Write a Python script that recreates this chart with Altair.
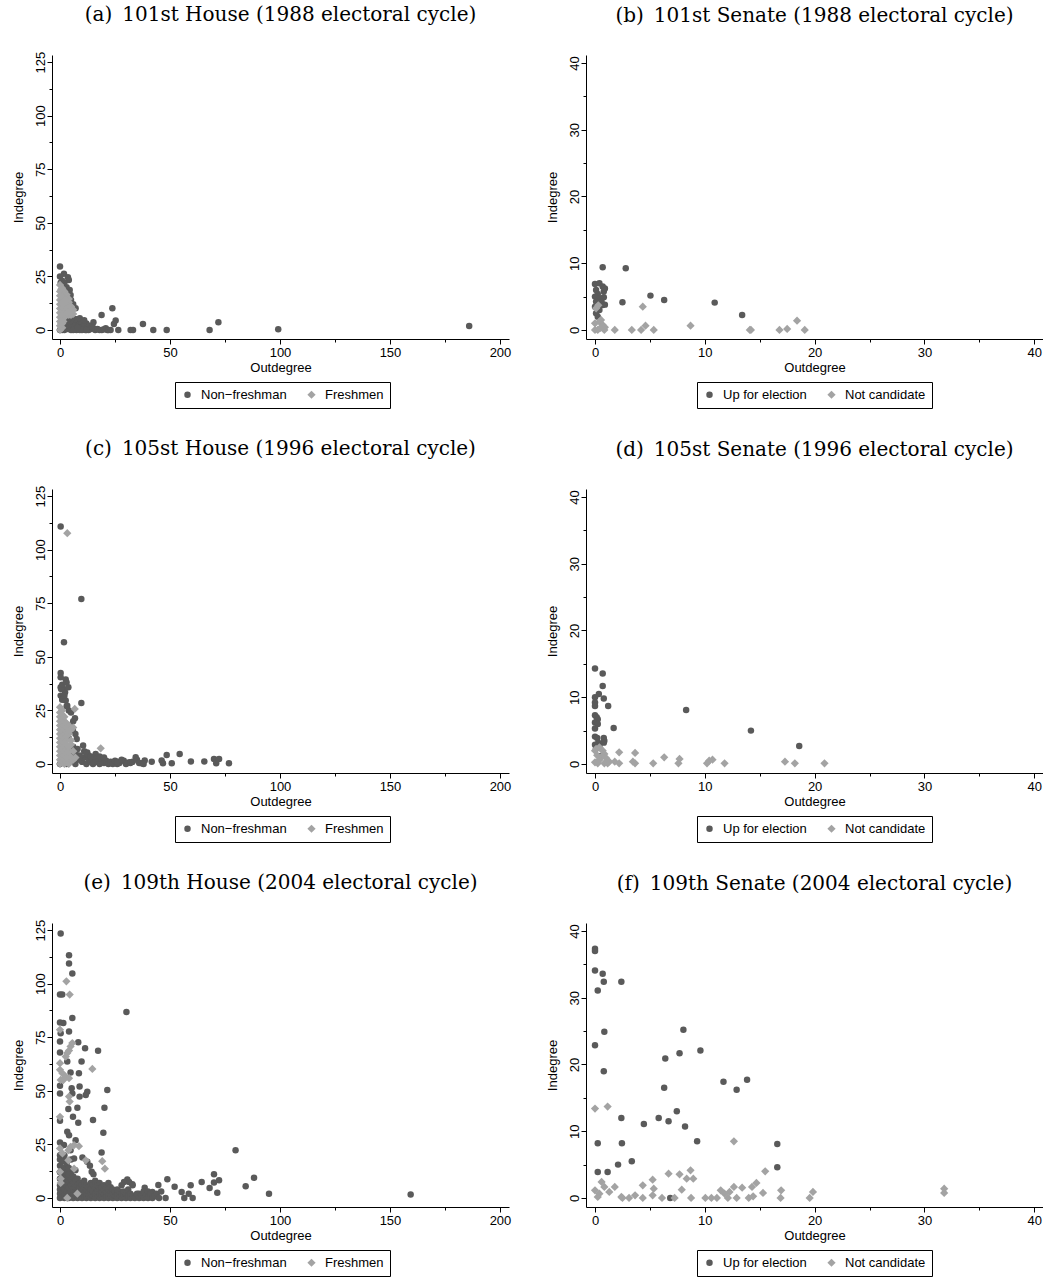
import altair as alt
import pandas as pd

DARK = "#5a5a5a"
LIGHT = "#a3a3a3"
HOUSE_GROUPS = ["Non\u2212freshman", "Freshmen"]
SENATE_GROUPS = ["Up for election", "Not candidate"]

TITLES = [
    "(a)\u2002101st House (1988 electoral cycle)",
    "(b)\u2002101st Senate (1988 electoral cycle)",
    "(c)\u2002105st House (1996 electoral cycle)",
    "(d)\u2002105st Senate (1996 electoral cycle)",
    "(e)\u2002109th House (2004 electoral cycle)",
    "(f)\u2002109th Senate (2004 electoral cycle)",
]

# ---------------- (a) 101st House ----------------
house101_nonfresh = [
    (0, 29.6), (1.8, 26.2), (3.6, 24.6), (4, 23.3), (0.3, 22), (4.4, 18.7), (4.8, 16.3), (7.1, 10.1),
    (2, 22), (3, 20), (5, 14), (6, 12), (0, 25), (1, 23),
    (18.9, 7), (23.8, 10.1), (25.3, 4.4), (24.5, 2.8), (26.5, 0), (15.2, 3.6), (20.8, 0.8), (21.5, 0),
    (32.1, 0), (33.2, 0), (37.7, 2.8), (42.4, 0), (48.5, 0), (68, 0), (72, 3.6), (99.2, 0.3), (186, 1.9),
    (2, 0), (2.5, 1), (3, 2), (3.5, 0.5), (4, 3), (4.5, 1.5), (5, 0), (5.5, 2.5), (6, 4), (6.5, 1),
    (7, 3), (7.5, 0), (8, 5), (8.5, 2), (9, 4), (9.5, 0.5), (10, 3.5), (10.5, 1.5), (11, 2.5), (11.5, 0),
    (12, 3), (12.5, 1), (13, 0), (13.5, 2), (14, 0.5), (15, 1), (16, 0), (17, 0.5), (18, 0), (19, 0),
    (20, 0.3), (22, 0), (23, 0), (6, 0), (9, 0), (10, 0), (12, 0), (8, 1), (7, 5), (9, 5.5),
    (5, 4.5), (4, 5.5), (11, 4.5), (3, 4), (1, 0), (0, 0), (0.5, 1.5),
]
house101_fresh = [
    (0, 0), (0, 2), (0, 4), (0, 6), (0, 8), (0, 10), (0, 12), (0, 14), (0, 16), (0, 18), (0, 21),
    (1, 1), (1, 3), (1, 5), (1, 7), (1, 9), (1, 11), (1, 13), (1, 15), (1, 17), (1, 19.5),
    (2, 6), (2, 8), (2, 10), (2, 12), (2, 14), (2, 16), (2, 18),
    (3, 7), (3, 9), (3, 11), (3, 13), (3, 15), (3, 16.5),
    (4, 7), (4, 9), (4, 11), (4, 13), (4, 14.5),
    (5, 7), (5, 9), (5, 11), (6, 7.5), (6, 9.5),
    (0.5, 3), (1.5, 4), (2.5, 7), (3.5, 8), (4.5, 8), (1.5, 12), (2.5, 14), (0.5, 16), (0.5, 19),
]

# ---------------- (b) 101st Senate ----------------
senate101_up = [
    (0.7, 9.4), (2.8, 9.25), (0, 6.9), (0.4, 7.0), (0.7, 6.5), (0.8, 5.75), (0.1, 6.0), (0.25, 5.4),
    (0, 5.0), (0.4, 4.75), (0.8, 4.9), (0.1, 4.25), (0.7, 3.75), (0.4, 3.0), (0.1, 2.5), (0.25, 2.0),
    (0.9, 6.2), (0.6, 4.2), (0, 3.5), (0.9, 3.8),
    (2.5, 4.15), (5.05, 5.15), (6.3, 4.5), (10.9, 4.1), (13.4, 2.25),
]
senate101_not = [
    (0.1, 3.25), (0.3, 3.7), (4.35, 3.5), (0, 1.0), (0.4, 1.25), (0.7, 0.75), (0.25, 0), (0, 0), (0.85, 0),
    (0.55, 1.5), (0.9, 0.4), (0.5, 0.3),
    (1.8, 0), (3.35, 0), (4.2, 0), (4.6, 0.65), (5.35, 0), (8.7, 0.65), (14.1, 0), (14.2, 0),
    (16.8, 0), (17.5, 0.15), (18.4, 1.4), (19.1, 0),
]

# ---------------- (c) 105th House ----------------
house105_nonfresh = [
    (0.3, 110.8), (9.7, 77), (1.8, 56.8), (0.3, 42.5), (0.3, 40.5), (2.6, 39.4), (0.3, 35.8), (1.5, 35),
    (3.8, 35.8), (2.3, 33.5), (0.3, 31.9), (1, 30.4), (2.6, 29.6), (3.3, 27.2), (9.7, 28.5), (6.8, 21.3),
    (5.9, 15.6), (7.6, 11.7), (10.5, 8.6), (16.2, 4.7), (12.4, 5.4), (34.4, 3.1), (38.5, 1.6), (41.7, 1.1),
    (46.2, 1.6), (46.8, 0.3), (48.5, 4.2), (50.8, 0.3), (54.4, 4.7), (59.5, 1.2), (65.6, 1.2), (70, 2.3),
    (72.3, 2.3), (71, 0.3), (76.8, 0.3), (31.5, 0.8), (29, 1.5), (37, 0.3),
    (0, 0), (1, 1), (2, 0.5), (3, 0), (4, 2), (5, 1), (6, 3), (7, 0), (8, 2), (9, 4), (10, 1), (11, 3),
    (12, 0), (13, 2), (14, 1), (15, 0), (16, 2.5), (17, 1), (18, 0), (19, 2), (20, 0.5), (21, 1.5),
    (22, 0), (23, 1), (24, 0), (25, 1.5), (26, 0), (27, 0.5), (28, 1.5), (30, 0), (32, 0.5), (33, 1),
    (35, 2), (36, 0.5), (38, 0), (5, 5), (7, 5.5), (11, 6), (13, 4), (8, 7), (6, 8), (4, 12), (5, 18),
    (6, 20), (4, 25), (3, 27), (1, 30), (2, 32), (0.5, 35), (1, 37), (5, 24), (7, 14), (3, 38), (9, 3),
    (18, 3.5), (20, 3), (12, 5), (14, 3.5), (26, 1), (28, 2),
]
house105_fresh = [
    (0, 0), (0, 2), (0, 4), (0, 6), (0, 8), (0, 10), (0, 12), (0, 14), (0, 16), (0, 18), (0, 20), (0, 22),
    (0, 24), (0, 26.5),
    (1, 1), (1, 3), (1, 5), (1, 7), (1, 9), (1, 11), (1, 13), (1, 15), (1, 17), (1, 19), (1, 21), (1, 23), (1, 25),
    (2, 0), (2, 2), (2, 4), (2, 6), (2, 8), (2, 10), (2, 12), (2, 14), (2, 16), (2, 18), (2, 20), (2, 22),
    (3, 1), (3, 3), (3, 5), (3, 7), (3, 9), (3, 11), (3, 13), (3, 15), (3, 17), (3, 19),
    (4, 0), (4, 4), (4, 6), (4, 8), (4, 14), (4, 16), (4, 18),
    (5, 1.5), (5, 3), (5, 9), (5, 11), (5, 16), (6, 2), (6, 6), (6, 17), (7, 3),
    (6.7, 25.7), (3.3, 107.7), (18.5, 7.3),
]

# ---------------- (d) 105th Senate ----------------
senate105_up = [
    (0, 14.3), (0.7, 13.55), (0.7, 11.7), (0.35, 10.5), (0, 10), (0.8, 9.8), (0, 9.2), (0, 8.7), (1.2, 8.7),
    (8.3, 8.1), (0, 7.3), (0.15, 7.0), (0.25, 6.7), (0, 6.2), (0.25, 6.0), (0, 5.3), (1.7, 5.4), (14.2, 5.0),
    (0, 4.1), (0.2, 3.9), (0.8, 3.9), (0.85, 3.5), (0.8, 3.2), (0.3, 3.2), (0.4, 2.7), (18.6, 2.7),
    (0, 2.9), (0.1, 2.4), (0.5, 1.2),
]
senate105_not = [
    (0, 2.0), (0.1, 2.25), (0.4, 2.5), (0.7, 2.0), (0.85, 1.5), (0.55, 1.0), (0, 0.25), (0.25, 0.1),
    (0.85, 0.1), (1.15, 0.1), (1.3, 0.35), (1.8, 0.35), (2.2, 1.75), (2.2, 0.1), (3.65, 1.65), (3.65, 0.1),
    (3.45, 0.35), (5.3, 0.1), (6.3, 1.0), (7.7, 0.75), (7.6, 0.1), (10.2, 0.1), (10.4, 0.5), (10.7, 0.65),
    (11.8, 0.1), (17.3, 0.35), (18.2, 0.1), (20.9, 0.1), (0.4, 0.6), (1.0, 0.9), (0.2, 1.3),
]

# ---------------- (e) 109th House ----------------
house109_nonfresh = [
    (0.3, 123.4), (4.1, 113.3), (4.1, 109.4), (5.6, 104.7), (0, 94.9), (1, 94.9), (30.2, 86.8), (5.6, 84),
    (0, 81.9), (1.5, 81.6), (4.1, 77.7), (0.3, 76.9), (0, 73), (8.3, 72.7), (11.4, 69.9), (17.3, 68.7),
    (0, 67.9), (3.3, 63.7), (9.8, 63.7), (4.8, 58.5), (8.6, 58.2), (0, 52.4), (8.9, 52), (5.3, 51.2),
    (5.6, 48.8), (12.4, 49.6), (11.7, 48), (8.9, 47.3), (21.5, 50.4), (0, 48.8), (7.9, 42.1), (3.8, 41.5),
    (20.2, 42.1), (5.9, 37.9), (8.3, 35.1), (15, 36.4), (0, 36), (19.7, 30.4), (3.3, 30.9), (4.1, 29.3),
    (7.1, 27), (0, 25.9), (1.8, 24.7), (4.8, 22.3), (18.9, 21.2), (79.8, 22.3), (0, 20), (1.8, 17.6),
    (6.4, 18.4), (10.2, 18.9), (12.4, 16.9), (13.6, 15), (14.4, 12.2), (15.2, 11.1), (70, 11.1), (88.2, 9.4),
    (48.8, 8.7), (52.1, 5.2), (44.7, 6.1), (64.4, 7.5), (72.3, 8.3), (70, 7.2), (68, 4.7), (71.5, 2.5),
    (59.4, 5.9), (55.3, 2.8), (56.5, 0), (60.3, 0), (58.5, 2), (84.4, 5.5), (95, 2), (159.4, 1.6),
    (30.6, 8.6), (31.4, 7.5), (29.1, 7.5), (32.9, 6.4), (38.5, 4.8), (42, 2.8), (48, 0), (43.5, 0.8),
    (35.9, 2), (38.9, 0.8), (2, 14), (3, 10), (5, 12), (7, 9), (1, 6),
    (0, 0), (0, 2), (0, 4), (0, 6), (0, 9), (0, 12), (0, 15), (0, 18),
    (1, 1), (1, 3), (1, 5), (1, 8), (1, 11), (1, 14), (1, 17),
    (2, 0), (2, 2), (2, 4), (2, 7), (2, 10), (2, 13), (2, 20),
    (3, 1), (3, 3), (3, 6), (3, 9), (3, 12), (3, 16),
    (4, 0), (4, 2), (4, 5), (4, 8), (4, 11), (4, 14),
    (5, 1), (5, 3), (5, 6), (5, 9), (5, 18),
    (6, 0), (6, 2), (6, 4), (6, 7), (6, 10),
    (7, 1), (7, 3), (7, 5), (7, 8), (7, 13),
    (8, 0), (8, 2), (8, 4), (8, 6), (8, 9),
    (9, 1), (9, 3), (9, 5), (9, 7),
    (10, 0), (10, 2), (10, 4), (10, 6),
    (11, 1), (11, 3), (11, 5), (11, 8),
    (12, 0), (12, 2), (12, 4), (12, 6),
    (13, 1), (13, 3), (13, 5),
    (14, 0), (14, 2), (14, 4), (14, 7),
    (15, 1), (15, 3), (15, 6),
    (16, 0), (16, 2), (16, 5), (16, 8),
    (17, 1), (17, 3), (17, 6),
    (18, 0), (18, 2), (18, 4), (18, 7),
    (19, 1), (19, 3), (19, 5),
    (20, 0), (20, 2), (20, 4), (20, 6),
    (21, 1), (21, 3), (21, 5),
    (22, 0), (22, 2), (22, 4), (22, 7),
    (23, 1), (23, 3), (23, 5),
    (24, 0), (24, 2), (24, 4), (25, 1), (25, 3), (26, 0), (26, 2), (26, 4), (27, 1), (27, 3),
    (28, 0), (28, 2), (28, 6), (29, 1), (29, 3), (30, 0), (30, 2), (31, 1), (31, 4), (32, 0),
    (32, 2), (33, 1), (33, 6), (34, 0), (35, 2), (36, 0), (37, 1), (38, 3), (38, 0), (39, 1),
    (40, 0), (40, 3), (41, 2), (42, 0), (43, 1), (44, 2), (45, 0), (46, 3),
]
house109_fresh = [
    (2.9, 101.1), (4.4, 94.9), (0, 78.5), (3.3, 67.6), (4.8, 70.7), (5.6, 72.3), (4.1, 68.8), (2.6, 66),
    (0, 62.9), (0, 59.8), (1.1, 58.2), (0.3, 55.1), (2.6, 56.6), (4.1, 55.9), (1.5, 55), (14.7, 60.2),
    (4.1, 47.3), (4.4, 45), (0, 37.9), (0, 23.1), (1.1, 20.8), (3.8, 22.3), (4.8, 23.9), (6.4, 24.7),
    (8.6, 24.2), (3.8, 17.6), (6.4, 13.7), (11.7, 17.6), (19.2, 17.2), (20.4, 13.7), (0, 12.2), (0.3, 9),
    (0.3, 7), (7.9, 2), (3.3, 0),
]

# ---------------- (f) 109th Senate ----------------
senate109_up = [
    (0, 37.35), (0, 37.0), (0, 34.1), (0.7, 33.6), (0.8, 32.4), (2.4, 32.4), (0.25, 31.1), (0.85, 24.9),
    (8.05, 25.2), (9.6, 22.1), (0, 22.9), (7.7, 21.7), (6.4, 20.9), (0.8, 19.0), (11.7, 17.4), (13.85, 17.7),
    (12.9, 16.2), (6.3, 16.5), (7.45, 13.0), (2.4, 12.0), (5.8, 12.0), (6.7, 11.5), (4.45, 11.1), (8.2, 10.7),
    (0.25, 8.2), (2.45, 8.2), (9.3, 8.5), (16.6, 8.1), (3.35, 5.5), (2.1, 5.0), (16.6, 4.6), (0.25, 3.9),
    (1.15, 3.9), (6.85, 0.0),
]
senate109_not = [
    (0, 13.4), (1.15, 13.7), (12.65, 8.5),
    (0, 1.15), (0.25, 0.15), (0.4, 0.65), (0.6, 2.4), (0.85, 1.65), (1.3, 0.9), (1.8, 1.65), (2.4, 0.15),
    (2.5, 0), (3.1, 0), (3.65, 0.4), (4.35, 1.9), (4.35, 0), (5.25, 0.4), (5.35, 1.4), (5.25, 2.75),
    (6.1, 0), (6.7, 3.65), (7.25, 0), (7.7, 3.55), (7.9, 1.25), (8.35, 2.9), (8.7, 4.15), (8.75, 0),
    (8.95, 2.9), (10.05, 0), (10.6, 0), (11.1, 0), (11.45, 1.15), (11.8, 0.65), (12.1, 0), (12.25, 0.9),
    (12.65, 1.65), (12.9, 0), (13.4, 1.55), (14.0, 0), (14.3, 1.65), (14.4, 0.25), (14.7, 2.25),
    (15.3, 0.75), (15.5, 4.0), (16.9, 0), (16.95, 1.15), (19.55, 0), (19.85, 0.9), (31.8, 1.4), (31.8, 0.75),
]

PANEL_W = 457
PANEL_H = 284


def make_df(first, second, groups):
    rows = [{"x": x, "y": y, "g": groups[0]} for x, y in first]
    rows += [{"x": x, "y": y, "g": groups[1]} for x, y in second]
    return pd.DataFrame(rows)


def panel(first, second, groups, title, kind):
    if kind == "house":
        xdom, ydom = [-3.64, 204.1], [-4.2, 128.3]
        xvals, xmaj = [0, 25, 50, 75, 100, 125, 150, 175, 200], 50
        yvals, ymaj = [0, 12.5, 25, 37.5, 50, 62.5, 75, 87.5, 100, 112.5, 125], 25
        legx, toff = 123, 26
    else:
        xdom, ydom = [-0.82, 40.8], [-1.35, 41.2]
        xvals, xmaj = [0, 5, 10, 15, 20, 25, 30, 35, 40], 10
        yvals, ymaj = [0, 5, 10, 15, 20, 25, 30, 35, 40], 10
        legx, toff = 111, 29

    legend = alt.Legend(
        title=None, orient="none", legendX=legx, legendY=327, direction="horizontal",
        strokeColor="black", padding=6, fillColor="white",
        labelFont="Liberation Sans", labelFontSize=13, labelColor="black",
        symbolSize=24, symbolStrokeWidth=0, columnPadding=18, labelOffset=7,
    )
    xaxis = alt.Axis(
        values=xvals, title="Outdegree", grid=False,
        labelExpr=f"datum.value % {xmaj} == 0 ? datum.label : ''",
        tickSize={"condition": {"test": f"datum.value % {xmaj} == 0", "value": 5}, "value": 3},
        labelPadding=2, titlePadding=2, labelFlush=False,
    )
    yaxis = alt.Axis(
        values=yvals, title="Indegree", grid=False,
        labelExpr=f"datum.value % {ymaj} == 0 ? datum.label : ''",
        tickSize={"condition": {"test": f"datum.value % {ymaj} == 0", "value": 5}, "value": 3},
        labelAngle=-90, labelAlign="center", labelBaseline="bottom", labelPadding=0,
        titlePadding=9, labelFlush=False,
    )
    df = make_df(first, second, groups)
    return alt.Chart(df).mark_point(filled=True, opacity=1, strokeWidth=0).encode(
        x=alt.X("x:Q", scale=alt.Scale(domain=xdom, nice=False, zero=False), axis=xaxis),
        y=alt.Y("y:Q", scale=alt.Scale(domain=ydom, nice=False, zero=False), axis=yaxis),
        color=alt.Color("g:N", scale=alt.Scale(domain=groups, range=[DARK, LIGHT]), legend=legend),
        shape=alt.Shape("g:N", scale=alt.Scale(domain=groups, range=["circle", "diamond"]), legend=legend),
        size=alt.Size("g:N", scale=alt.Scale(domain=groups, range=[42, 68]), legend=None),
    ).properties(
        width=PANEL_W, height=PANEL_H,
        title=alt.TitleParams(text=title, font="DejaVu Serif", fontSize=20, fontWeight="normal",
                              color="black", anchor="middle", offset=toff),
    )


def indep(ch):
    return ch.resolve_scale(color="independent", shape="independent", size="independent").resolve_legend(
        color="independent", shape="independent", size="independent")


a = panel(house101_nonfresh, house101_fresh, HOUSE_GROUPS, TITLES[0], "house")
b = panel(senate101_up, senate101_not, SENATE_GROUPS, TITLES[1], "senate")
c = panel(house105_nonfresh, house105_fresh, HOUSE_GROUPS, TITLES[2], "house")
d = panel(senate105_up, senate105_not, SENATE_GROUPS, TITLES[3], "senate")
e = panel(house109_nonfresh, house109_fresh, HOUSE_GROUPS, TITLES[4], "house")
f = panel(senate109_up, senate109_not, SENATE_GROUPS, TITLES[5], "senate")

chart = indep(alt.vconcat(
    indep(alt.hconcat(a, b, spacing=35)),
    indep(alt.hconcat(c, d, spacing=35)),
    indep(alt.hconcat(e, f, spacing=35)),
    spacing=30,
)).properties(
    padding={"left": 11, "top": 5, "right": 0, "bottom": 0},
    background="white",
).configure_view(stroke=None).configure_axis(
    domainColor="black", tickColor="black", labelColor="black", titleColor="black",
    labelFont="Liberation Sans", titleFont="Liberation Sans", labelFontSize=13, titleFontSize=13,
    titleFontWeight="normal", domainWidth=1, tickWidth=1,
)

chart.save("out.html", embed_options={"renderer": "svg", "actions": False})
